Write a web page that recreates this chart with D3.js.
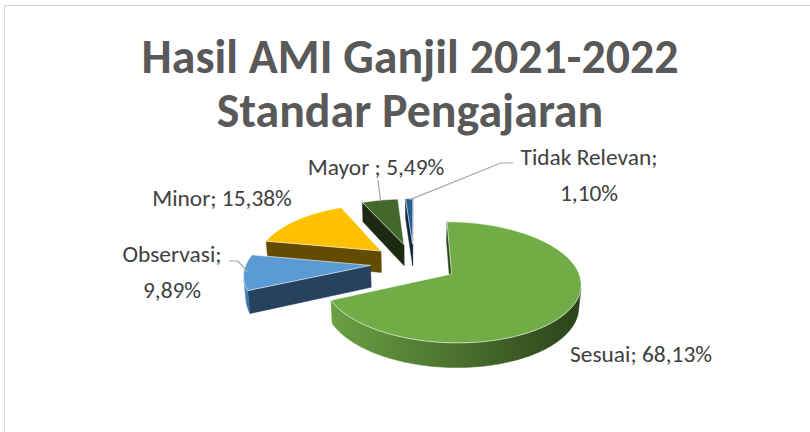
<!DOCTYPE html>
<html>
<head>
<meta charset="utf-8">
<script src="https://cdn.jsdelivr.net/npm/d3@7"></script>
<style>
  body { margin: 0; background: #fff; }
</style>
</head>
<body>
<svg width="810" height="432"></svg>
<script>
// data
var categories = ["Sesuai", "Observasi", "Minor", "Mayor ", "Tidak Relevan"];
var values = [68.13, 9.89, 15.38, 5.49, 1.10];
var valueLabels = ["68,13%", "9,89%", "15,38%", "5,49%", "1,10%"];
var titleLines = ["Hasil AMI Ganjil 2021-2022", "Standar Pengajaran"];

// colours
var topColors = ["#70ad47", "#5b9bd5", "#ffc000", "#43682b", "#255e91"];
var faceColors = ["#2b4519", "#26425f", "#634b00", "#1b2a10", "#10283f"];
var wallColors = [["#6aa043", "#2a4219"], ["#4f8cc4", "#3a6a96"], ["#a37b00", "#634b00"], ["#2e481d", "#1b2a10"], ["#1c4870", "#10283f"]];

// label layout: centre x, first baseline, wrap, leader points (label side)
var labelPos = [
  {x: 641, y: 362, wrap: false, leader: null},
  {x: 172, y: 262, wrap: true, leader: [[229, 261], [238, 261]]},
  {x: 222, y: 206, wrap: false, leader: null},
  {x: 376, y: 175, wrap: false, leader: [[378, 180]]},
  {x: 589, y: 165, wrap: true, leader: [[513, 163], [501, 163]]}
];

var svg = d3.select("svg");
var defs = svg.append("defs");

svg.append("rect")
  .attr("x", 4.5).attr("y", 5.5)
  .attr("width", 830).attr("height", 450)
  .attr("fill", "#fff").attr("stroke", "#d9d9d9");

// simple perspective camera for the 3d pie
var tilt = 27 * Math.PI / 180, dist = 6.6, focal = 820, depth = 0.2, explode = 0.35;
var cx = 414, cy = 263;
var camW = dist * Math.cos(tilt), camH = dist * Math.sin(tilt);

function project(u, w, h) {
  var yc = w * Math.sin(tilt) - h * Math.cos(tilt);
  var zc = dist - w * Math.cos(tilt) - h * Math.sin(tilt);
  return [cx + focal * u / zc, cy + focal * yc / zc];
}

function facing(n, p) {
  return n[0] * (0 - p[0]) + n[1] * (camW - p[1]) + n[2] * (camH - p[2]) > 0;
}

var pie = d3.pie().sort(null).value(function(d) { return d; });
var arcs = pie(values);
arcs.forEach(function(a, i) {
  var mid = (a.startAngle + a.endAngle) / 2;
  a.i = i;
  a.mid = mid;
  a.ou = explode * Math.sin(mid);
  a.ow = -explode * Math.cos(mid);
});

function rim(a, ang, h, r) {
  r = r || 1;
  return project(a.ou + r * Math.sin(ang), a.ow - r * Math.cos(ang), h);
}

function angles(a0, a1) {
  var n = Math.max(2, Math.ceil((a1 - a0) / (Math.PI / 180)));
  return d3.range(n + 1).map(function(k) { return a0 + (a1 - a0) * k / n; });
}

var line = d3.line();
var sideG = svg.append("g");
var topG = svg.append("g");

// side faces, back to front
arcs.slice().sort(function(a, b) { return a.ow - b.ow; }).forEach(function(a) {
  var faces = [];
  // radial faces
  [[a.startAngle, [-Math.cos(a.startAngle), -Math.sin(a.startAngle), 0]],
   [a.endAngle, [Math.cos(a.endAngle), Math.sin(a.endAngle), 0]]].forEach(function(f) {
    var ang = f[0];
    var p = [a.ou + 0.5 * Math.sin(ang), a.ow - 0.5 * Math.cos(ang), -depth / 2];
    if (facing(f[1], p)) {
      faces.push({pts: [project(a.ou, a.ow, 0), rim(a, ang, 0), rim(a, ang, -depth), project(a.ou, a.ow, -depth)], fill: faceColors[a.i]});
    }
  });
  // outer wall, visible runs only
  var runs = [], cur = null;
  angles(a.startAngle, a.endAngle).forEach(function(t) {
    var n = [Math.sin(t), -Math.cos(t), 0];
    var p = [a.ou + Math.sin(t), a.ow - Math.cos(t), -depth / 2];
    if (facing(n, p)) {
      if (!cur) { cur = []; runs.push(cur); }
      cur.push(t);
    } else cur = null;
  });
  runs.forEach(function(run, k) {
    if (run.length < 2) return;
    var topPts = run.map(function(t) { return rim(a, t, 0); });
    var botPts = run.map(function(t) { return rim(a, t, -depth); }).reverse();
    var pts = topPts.concat(botPts);
    var xs = d3.extent(pts, function(p) { return p[0]; });
    var id = "wall" + a.i + "_" + k;
    var g = defs.append("linearGradient").attr("id", id)
      .attr("gradientUnits", "userSpaceOnUse")
      .attr("x1", xs[0]).attr("x2", xs[1]).attr("y1", 0).attr("y2", 0);
    g.append("stop").attr("offset", 0).attr("stop-color", wallColors[a.i][0]);
    g.append("stop").attr("offset", 1).attr("stop-color", wallColors[a.i][1]);
    faces.push({pts: pts, fill: "url(#" + id + ")"});
  });
  faces.forEach(function(f) {
    sideG.append("path").attr("d", line(f.pts) + "Z").attr("fill", f.fill)
      .attr("stroke", f.fill).attr("stroke-width", 0.5);
  });
});

// top faces
arcs.forEach(function(a) {
  var pts = [project(a.ou, a.ow, 0)].concat(angles(a.startAngle, a.endAngle).map(function(t) { return rim(a, t, 0); }));
  topG.append("path").attr("d", line(pts) + "Z")
    .attr("fill", topColors[a.i])
    .attr("stroke", "#ffffff").attr("stroke-opacity", 0.75).attr("stroke-width", 0.8);
});

// title
var font = "Carlito, Lato, 'Open Sans', sans-serif";
var t1 = svg.append("text").attr("x", 410).attr("y", 73).attr("text-anchor", "middle")
  .attr("font-family", font).attr("font-weight", "bold").attr("font-size", 42)
  .attr("fill", "#595959").text(titleLines[0]);
var titleSize = 42 * 537 / t1.node().getComputedTextLength();
t1.attr("font-size", titleSize);
svg.append("text").attr("x", 410).attr("y", 127).attr("text-anchor", "middle")
  .attr("font-family", font).attr("font-weight", "bold").attr("font-size", titleSize)
  .attr("fill", "#595959").text(titleLines[1]);

// data labels
var probe = svg.append("text").attr("font-family", font).attr("font-size", 18)
  .text(categories[0] + "; " + valueLabels[0]);
var labelSize = 18 * 142 / probe.node().getComputedTextLength();
probe.remove();

var leaderG = svg.append("g").attr("fill", "none").attr("stroke", "#a6a6a6").attr("stroke-width", 1.2);
arcs.forEach(function(a) {
  var lp = labelPos[a.i];
  var lines = lp.wrap ? [categories[a.i] + ";", valueLabels[a.i]] : [categories[a.i] + "; " + valueLabels[a.i]];
  var txt = svg.append("text").attr("text-anchor", "middle")
    .attr("font-family", font).attr("font-size", labelSize).attr("fill", "#404040");
  lines.forEach(function(s, k) {
    txt.append("tspan").attr("x", lp.x).attr("y", lp.y + k * labelSize * 1.55).text(s);
  });
  if (lp.leader) {
    var pts = lp.leader.concat([rim(a, a.mid, 0, 0.97)]);
    leaderG.append("path").attr("d", line(pts));
  }
});
</script>
</body>
</html>
